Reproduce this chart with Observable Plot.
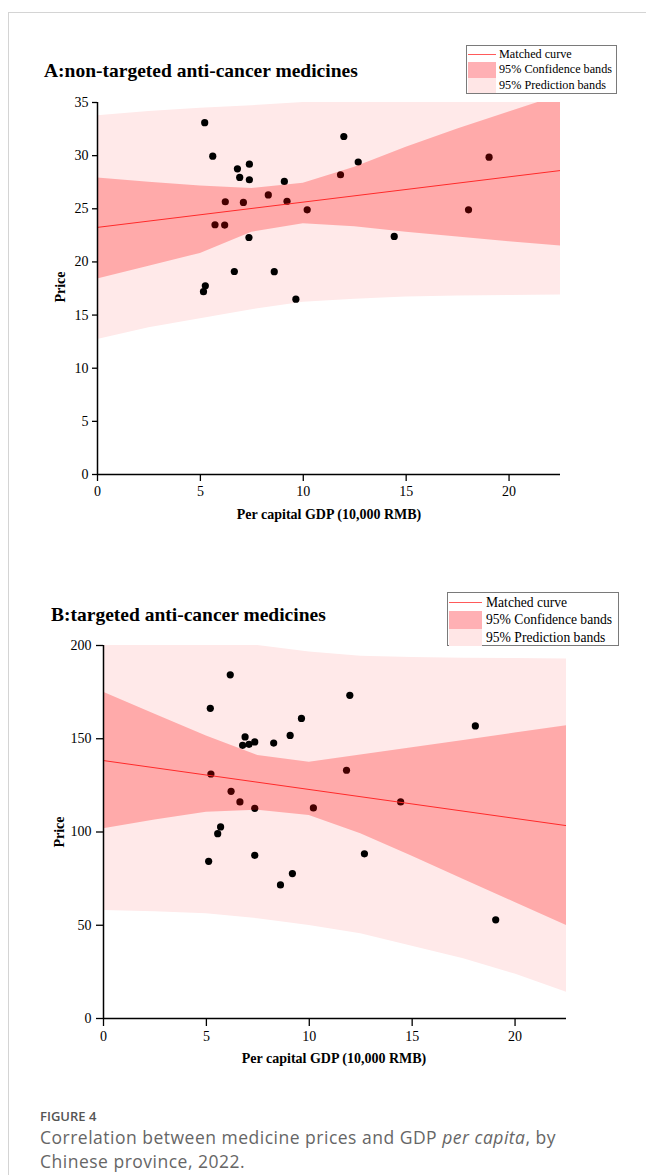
<!DOCTYPE html>
<html>
<head>
<meta charset="utf-8">
<script src="https://cdn.jsdelivr.net/npm/d3@7"></script>
<script src="https://cdn.jsdelivr.net/npm/@observablehq/plot@0.6"></script>
<style>
  html, body { margin: 0; padding: 0; background: #fff; }
  #page { position: relative; width: 646px; height: 1175px; overflow: hidden; background: #fff; }
  #frame { position: absolute; left: 8px; top: 12px; right: -2px; bottom: -2px; border-top: 1px solid #d4d4d4; border-left: 1px solid #d4d4d4; }
  .serif { font-family: "Liberation Serif", "Times New Roman", serif; color: #000; }
  .title { font-weight: bold; font-size: 19.5px; white-space: nowrap; line-height: 1; }
  .axlab { font-weight: bold; font-size: 14px; white-space: nowrap; line-height: 1; }
  .legend { border: 1px solid #7a7a7a; background: #fff; box-sizing: border-box; }
  .legend .row { display: flex; align-items: center; white-space: nowrap; }
  .legend .sw { flex: none; }
  .cap { font-family: "Open Sans", "Noto Sans", sans-serif; color: #666; white-space: nowrap; }
</style>
</head>
<body>
<div id="page">
  <div id="frame"></div>
</div>
<script>
// ---------- data ----------
const xTicks = [0, 5, 10, 15, 20];
const yTicksA = [0, 5, 10, 15, 20, 25, 30, 35];
const yTicksB = [0, 50, 100, 150, 200];

// Panel A: non-targeted anti-cancer medicines (GDP per capita, price)
const gdpA = [5.21, 5.60, 6.80, 7.38, 6.91, 7.38, 9.08, 11.81, 11.97, 12.67, 6.21, 7.09, 8.30, 9.21, 10.19, 5.71, 6.18, 7.36, 6.65, 8.59, 5.24, 5.15, 9.64, 19.03, 18.03, 14.42];
const priceA = [33.1, 29.95, 28.76, 29.2, 27.95, 27.73, 27.57, 28.2, 31.8, 29.4, 25.66, 25.6, 26.3, 25.7, 24.9, 23.5, 23.47, 22.3, 19.1, 19.08, 17.76, 17.2, 16.5, 29.86, 24.9, 22.4];

// Panel B: targeted anti-cancer medicines
const gdpB = [6.16, 5.19, 11.97, 9.62, 9.07, 6.88, 6.76, 7.07, 7.35, 8.27, 5.22, 11.81, 6.20, 6.63, 7.35, 10.20, 18.07, 14.44, 5.69, 5.55, 5.11, 7.35, 12.68, 9.18, 8.60, 19.06];
const priceB = [184.3, 166.3, 173.3, 160.9, 151.8, 151.0, 146.5, 147.0, 148.3, 147.7, 131.1, 133.1, 121.8, 116.1, 112.7, 112.9, 156.9, 116.1, 102.7, 99.1, 84.3, 87.5, 88.3, 77.7, 71.6, 52.9];

// Fitted line end points
const fitX = [0, 22.5];
const fitA = [23.25, 28.6];
const fitB = [138.3, 103.4];

// Band outlines read at these GDP values
const bandX = [0, 2.5, 5, 7.5, 10, 12.5, 15, 17.5, 20, 22.5];
const confLoA = [18.4, 19.6, 20.8, 22.8, 23.6, 23.3, 22.8, 22.35, 21.9, 21.5];
const confHiA = [27.9, 27.5, 27.15, 26.9, 27.4, 28.9, 30.8, 32.5, 34.1, 35.7];
const predLoA = [12.7, 13.8, 14.65, 15.5, 16.2, 16.5, 16.7, 16.8, 16.85, 16.9];
const predHiA = [33.75, 34.15, 34.45, 34.7, 35, 35, 35, 35, 35, 35];

const confLoB = [101.7, 106.5, 110.6, 111.7, 108.8, 99, 87, 74.5, 62.2, 49.8];
const confHiB = [174.9, 163.2, 151.5, 141, 137.4, 141.3, 145.2, 149.1, 153.1, 157];
const predLoB = [57.9, 57.2, 56.2, 53.5, 49.8, 45.5, 38.8, 32, 23.8, 14.1];
const predHiB = [200, 200, 200, 200, 196.5, 194.3, 193.6, 193.2, 193, 192.8];

// ---------- styles ----------
const predFill = "#ffe9e9";
const confFill = "#ff0000";
const confOpacity = 0.27;
const lineColor = "#ff2a2a";

const page = document.getElementById("page");

function place(el, left, top) {
  el.style.position = "absolute";
  el.style.left = left + "px";
  el.style.top = top + "px";
  page.appendChild(el);
  return el;
}

function div(cls, text, left, top, extra) {
  const d = document.createElement("div");
  d.className = cls;
  d.textContent = text;
  if (extra) Object.assign(d.style, extra);
  return place(d, left, top);
}

function panel(opts) {
  const pts = opts.gdp.map((g, i) => ({x: g, y: opts.price[i]}));
  const band = bandX.map((x, i) => ({x, cl: opts.confLo[i], ch: opts.confHi[i], pl: opts.predLo[i], ph: opts.predHi[i]}));
  const fit = fitX.map((x, i) => ({x, y: opts.fit[i]}));
  const font = "Liberation Serif, Times New Roman, serif";
  const p = Plot.plot({
    width: 646,
    height: opts.height,
    marginLeft: opts.ml,
    marginRight: opts.mr,
    marginTop: opts.mt,
    marginBottom: opts.mb,
    style: {fontFamily: font, fontSize: "14px", color: "#000", background: "transparent", overflow: "visible"},
    x: {domain: [0, 22.5]},
    y: {domain: opts.yDomain},
    marks: [
      Plot.areaY(band, {x: "x", y1: "pl", y2: "ph", fill: predFill, clip: true}),
      Plot.dot(pts, {x: "x", y: "y", r: 3.6, fill: "#000", stroke: "none"}),
      Plot.areaY(band, {x: "x", y1: "cl", y2: "ch", fill: confFill, fillOpacity: confOpacity, clip: true}),
      Plot.line(fit, {x: "x", y: "y", stroke: lineColor, strokeWidth: 1, clip: true}),
      Plot.axisX({ticks: xTicks, tickSize: opts.xTickSize, tickPadding: opts.xTickPad, tickFormat: d => String(d), label: null, strokeWidth: 1.3, fontSize: 14, fontFamily: font, fill: "#000"}),
      Plot.axisY({ticks: opts.yTicks, tickSize: opts.yTickSize, tickPadding: opts.yTickPad, tickFormat: d => String(d), label: null, strokeWidth: 1.3, fontSize: 14, fontFamily: font, fill: "#000"}),
      Plot.ruleX([0], {stroke: "#000", strokeWidth: 1.5}),
      Plot.ruleY([opts.yDomain[0]], {stroke: "#000", strokeWidth: 1.5})
    ]
  });
  place(p, 0, opts.top);
  return p;
}

// ---------- Panel A ----------
div("serif title", "A:non-targeted anti-cancer medicines", 44, 61);
panel({gdp: gdpA, price: priceA, fit: fitA, confLo: confLoA, confHi: confHiA, predLo: predLoA, predHi: predHiA,
  top: 90, height: 440, ml: 97, mr: 86, mt: 12, mb: 56, yDomain: [0, 35], yTicks: yTicksA,
  xTickSize: 7, xTickPad: 5, yTickSize: 5, yTickPad: 4});
div("serif axlab", "Per capital GDP (10,000 RMB)", 329, 508, {transform: "translateX(-50%)"});
div("serif axlab", "Price", 61, 287, {transform: "translate(-50%,-50%) rotate(-90deg)"});

// ---------- Panel B ----------
div("serif title", "B:targeted anti-cancer medicines", 51, 605);
panel({gdp: gdpB, price: priceB, fit: fitB, confLo: confLoB, confHi: confHiB, predLo: predLoB, predHi: predHiB,
  top: 630, height: 440, ml: 103, mr: 80, mt: 15, mb: 52, yDomain: [0, 200], yTicks: yTicksB,
  xTickSize: 8, xTickPad: 5, yTickSize: 7, yTickPad: 5});
div("serif axlab", "Per capital GDP (10,000 RMB)", 334, 1052, {transform: "translateX(-50%)"});
div("serif axlab", "Price", 60, 832, {transform: "translate(-50%,-50%) rotate(-90deg)"});

// ---------- legends ----------
const legendItems = ["Matched curve", "95% Confidence bands", "95% Prediction bands"];
function legend(left, top, w, h, rowH, swW, fontSize, gap) {
  const box = document.createElement("div");
  box.className = "legend serif";
  Object.assign(box.style, {width: w + "px", height: h + "px", padding: "1px 0 0 1px", fontSize: fontSize + "px", lineHeight: rowH + "px"});
  legendItems.forEach((t, i) => {
    const row = document.createElement("div");
    row.className = "row";
    row.style.height = rowH + "px";
    const sw = document.createElement("div");
    sw.className = "sw";
    sw.style.width = swW + "px";
    sw.style.height = rowH + "px";
    sw.style.marginRight = gap + "px";
    if (i === 0) {
      sw.style.background = `linear-gradient(to bottom, transparent ${rowH/2 - 0.5}px, #ff5a5a ${rowH/2 - 0.5}px, #ff5a5a ${rowH/2 + 0.5}px, transparent ${rowH/2 + 0.5}px)`;
    } else if (i === 1) {
      sw.style.background = "#ffb0b4";
    } else {
      sw.style.background = "#ffe6e6";
    }
    const tx = document.createElement("span");
    tx.textContent = t;
    row.appendChild(sw);
    row.appendChild(tx);
    box.appendChild(row);
  });
  place(box, left, top);
}
legend(466, 45, 151, 49, 15.3, 28, 12.2, 3);
legend(447, 592, 172, 54, 17.3, 33, 13.6, 4);

// ---------- caption ----------
div("cap", "FIGURE 4", 40, 1107, {fontSize: "13px", lineHeight: "18px", fontWeight: "600", color: "#555"});
const capLine = div("cap", "Correlation between medicine prices and GDP ", 40, 1125, {fontSize: "17.5px", lineHeight: "24px", letterSpacing: "0.5px"});
const it = document.createElement("i"); it.textContent = "per capita";
capLine.appendChild(it);
capLine.appendChild(document.createTextNode(", by"));
div("cap", "Chinese province, 2022.", 40, 1149, {fontSize: "17.5px", lineHeight: "24px", letterSpacing: "0.5px"});
</script>
</body>
</html>
